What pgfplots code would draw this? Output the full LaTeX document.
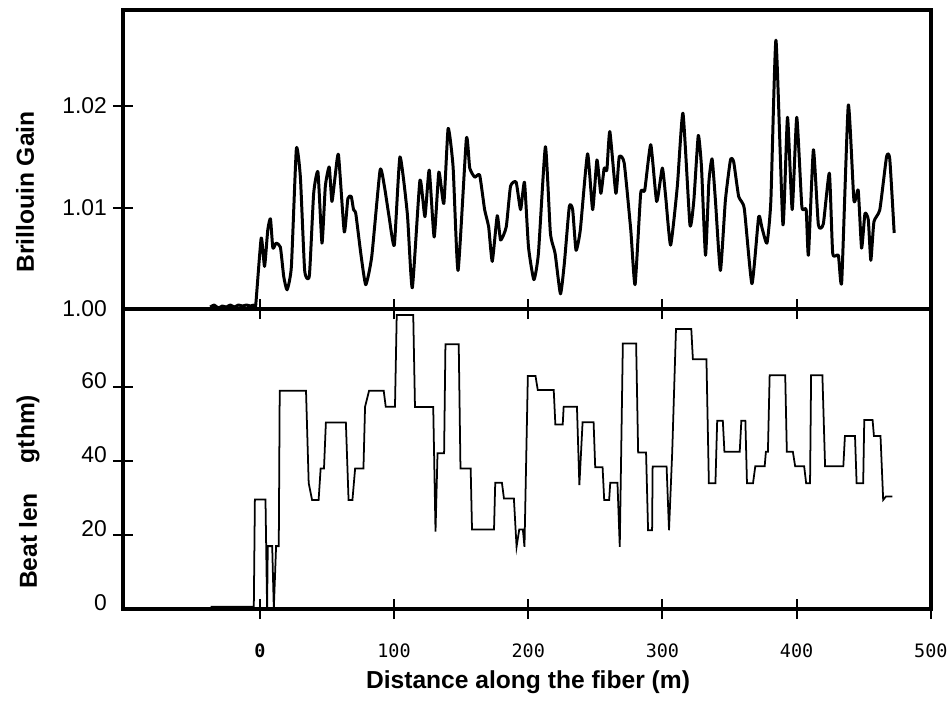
\documentclass[border=0pt]{standalone}
\usepackage{fontspec}
\setmainfont{Liberation Sans}
\setmonofont{DejaVu Sans Mono}
\usepackage{pgfplots}
\pgfplotsset{compat=1.18}

% one unit of the picture = one pixel of the 950x702 reference
\pgfplotsset{
  panel/.style={
    scale only axis, width=16.16cm,
    xmin=-102, xmax=500,
    axis line style={line width=2.4pt},
    tick align=center, major tick length=0.4cm,
    tick style={black, line width=1.1pt},
    xtick pos=left, ytick pos=left,
    yticklabel style={font=\fontsize{13}{13}\selectfont},
    xticklabel style={font=\ttfamily\fontsize{10.5}{11}\selectfont, yshift=-0.38cm},
    extra y tick style={tick style={draw=none}},
  },
}

\begin{document}
\begin{tikzpicture}[x=0.02cm,y=0.02cm]
\path[use as bounding box] (0,0) rectangle (950,702);

% ---- upper panel: Brillouin gain
\begin{axis}[panel, at={(2.46cm,7.86cm)}, anchor=south west, height=5.98cm,
  ymin=1.00, ymax=1.02946,
  xtick={0,100,200,300,400}, xticklabels={},
  ytick={1.01,1.02}, yticklabels={1.01,1.02},
  extra y ticks={1.00}, extra y tick labels={1.00},
]
\addplot[black, line width=1.7pt, line join=round, smooth, tension=0.3] table {
x y
-37 1.0002
-34 1.0004
-31 1.0001
-28 1.0003
-25 1.0002
-22 1.0004
-19 1.0002
-16 1.0004
-13 1.0003
-10 1.0004
-7 1.0003
-4.5 1.0004
-3.2 1.0002
1.0 1.0070
3.5 1.0042
5.9 1.0078
7.9 1.0089
9.7 1.0060
12.1 1.0065
15.3 1.0061
17.8 1.0032
20.3 1.0019
23.5 1.0042
27.2 1.0158
30.2 1.0130
33.4 1.0038
36.9 1.0033
40.1 1.0114
43.3 1.0135
46.3 1.0065
48.8 1.0121
51.7 1.0140
53.7 1.0106
56.2 1.0132
58.6 1.0152
62.9 1.0076
65.6 1.0109
68.1 1.0111
69.8 1.0098
71.5 1.0094
75.2 1.0055
78.9 1.0024
83.4 1.0052
89.6 1.0137
92.8 1.0121
96.3 1.0091
100.2 1.0063
104.4 1.0150
109.9 1.0094
113.6 1.0021
119.3 1.0127
123.0 1.0091
126.2 1.0137
129.9 1.0071
133.4 1.0135
137.1 1.0104
140.3 1.0178
144.0 1.0140
147.7 1.0038
153.9 1.0168
156.4 1.0139
160.1 1.0130
163.8 1.0132
167.5 1.0098
170.5 1.0081
173.2 1.0047
176.9 1.0092
179.4 1.0068
183.6 1.0081
186.8 1.0121
191.0 1.0125
194.3 1.0098
197.2 1.0125
200.2 1.0061
204.2 1.0029
207.6 1.0055
212.8 1.0160
216.5 1.0075
220.0 1.0055
224.0 1.0015
226.9 1.0045
230.6 1.0101
233.1 1.0098
235.6 1.0058
238.8 1.0078
244.2 1.0153
248.0 1.0098
251.2 1.0147
254.1 1.0114
256.6 1.0139
258.6 1.0137
260.8 1.0175
265.3 1.0114
267.8 1.0150
271.5 1.0144
276.4 1.0078
279.6 1.0024
283.8 1.0114
286.8 1.0117
291.3 1.0162
295.7 1.0106
299.9 1.0139
302.4 1.0111
306.1 1.0063
311.1 1.0121
315.3 1.0193
320.5 1.0083
323.4 1.0107
326.7 1.0171
329.1 1.0140
332.1 1.0053
334.6 1.0125
337.0 1.0148
339.5 1.0107
343.2 1.0038
346.9 1.0107
350.7 1.0147
353.1 1.0145
356.8 1.0111
361.0 1.0099
366.7 1.0025
371.7 1.0091
374.2 1.0080
377.9 1.0065
380.8 1.0107
384.6 1.0265
389.8 1.0083
393.2 1.0189
396.7 1.0098
400.1 1.0189
403.9 1.0101
407.1 1.0098
408.8 1.0053
412.5 1.0157
416.2 1.0083
419.9 1.0084
424.4 1.0134
426.9 1.0055
431.1 1.0053
433.6 1.0027
438.5 1.0201
442.7 1.0107
445.9 1.0117
448.4 1.0060
450.9 1.0094
453.4 1.0088
455.3 1.0048
457.6 1.0086
462.0 1.0098
467.0 1.0150
469.4 1.0148
472.7 1.0075
};
\end{axis}

% ---- lower panel: beat length
\begin{axis}[panel, at={(2.46cm,1.86cm)}, anchor=south west, height=6cm,
  ymin=0, ymax=81.08,
  xtick={0,100,200,300,400,500},
  xticklabels={\textbf{0},100,200,300,400,500},
  ytick={20,40,60}, yticklabels={20,40,60},
  extra y ticks={0}, extra y tick labels={0},
  yticklabel style={yshift=0.12cm},
]
\addplot[black, line width=1.0pt] table {
x y
-36.6 0.6
-4.5 0.6
-3.7 29.6
4.2 29.6
5.4 0
5.9 17
9.2 17
10.4 0
12.1 17
14.1 17
14.8 59
34.4 59
36.4 34
38.9 29.5
43.8 29.5
45.3 38
47.8 38
49.2 50.4
64.1 50.4
66.1 29.5
69.0 29.5
71.0 38
77.2 38
78.4 54.7
81.4 59
92.3 59
93.8 54.7
100.7 54.7
102.0 79.5
114.3 79.5
115.6 54.6
129.2 54.6
130.9 20.9
132.4 42.1
137.3 42.1
138.3 71.6
148.2 71.6
149.5 38
157.1 38
158.1 21.5
174.5 21.5
175.4 34.1
180.4 34.1
181.9 29.9
189.3 29.9
191.3 16.8
193.3 21.5
196.0 21.5
197.2 16.8
199.7 63
205.4 63
207.1 59.2
219.0 59.2
220.2 49.9
225.7 49.9
226.4 54.7
236.3 54.7
238.1 33.5
240.5 50.5
248.7 50.5
249.9 38.3
255.4 38.3
256.6 29.5
260.3 29.5
261.1 34.1
266.5 34.1
268.2 16.8
270.5 71.8
280.4 71.8
281.9 42.3
287.8 42.3
289.3 21.3
292.3 21.3
292.7 38.5
303.1 38.5
304.9 21.3
307.3 42.5
310.1 75.7
321.5 75.7
322.7 67.5
332.8 67.5
334.6 34.0
339.5 34.0
340.8 50.9
345.0 50.9
346.2 42.5
357.6 42.5
358.8 50.9
361.8 50.9
363.0 34.0
367.5 34.0
369.2 38.6
376.2 38.6
377.1 42.5
378.6 42.5
379.9 63.2
391.5 63.2
392.7 42.5
397.2 42.5
398.9 38.6
405.6 38.6
407.1 34.0
410.0 34.0
410.8 63.2
419.2 63.2
421.2 38.6
434.8 38.6
436.0 46.8
443.5 46.8
444.7 34.0
449.6 34.0
450.4 51.1
456.6 51.1
457.6 46.8
462.5 46.8
464.5 29.5
466.5 30.4
471.4 30.4
};
\end{axis}

% axis titles, placed as in the reference
\begin{scope}[font=\fontsize{14}{14}\selectfont\bfseries]
\node[rotate=90] at (25,510) {Brillouin Gain};
\node[rotate=90] at (28,161) {Beat len};
\node[rotate=90] at (28,273) {gthm)};
\node[anchor=base] at (528,13) {Distance along the fiber (m)};
\end{scope}
\end{tikzpicture}
\end{document}
